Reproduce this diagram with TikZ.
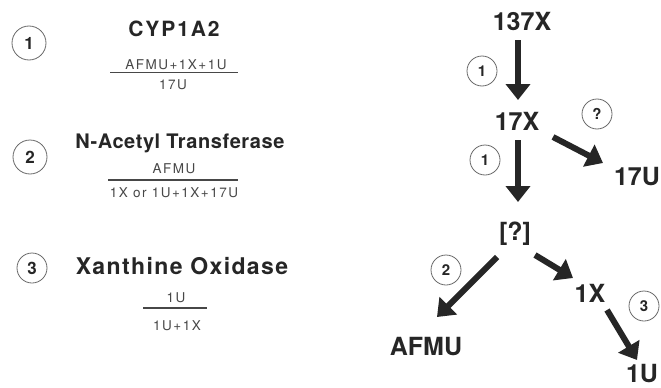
\documentclass[tikz,border=0pt]{standalone}
\usepackage{fontspec}
\setmainfont{TeX Gyre Heros}
\usetikzlibrary{arrows.meta,calc}
\definecolor{ink}{HTML}{262626}
\definecolor{softink}{HTML}{474747}
\definecolor{ringgray}{HTML}{6A6A6A}
\tikzset{
  enzyme/.style={anchor=base, inner sep=0pt, text=ink},
  ratio/.style={anchor=base, inner sep=0pt, text=softink, font=\fontsize{13.5}{13.5}\selectfont\addfontfeature{LetterSpace=11}},
  metab/.style={anchor=base, inner sep=0pt, text=ink, font=\fontsize{25}{25}\selectfont\bfseries},
  ring/.style={circle, draw=ringgray, line width=0.8pt, inner sep=0pt, minimum size=#1, text=ink},
  ringL/.style={ring=34pt, font=\fontsize{17}{17}\selectfont\bfseries},
  ringR/.style={ring=30pt, font=\fontsize{15}{15}\selectfont\bfseries},
  fracrule/.style={softink, line width=1.3pt},
  flow/.style={ink, line width=6pt, -{Triangle[length=16pt,width=24pt]}}
}
\begin{document}
\begin{tikzpicture}[x=1pt,y=-1pt]
  \useasboundingbox (0,0) rectangle (661,388);
  \fill[white] (0,0) rectangle (661,388);

  % ---- enzyme legend ----
  \node[ringL] (c1) at (29,43) {1};
  \node[enzyme, font=\fontsize{21}{21}\selectfont\bfseries\addfontfeature{LetterSpace=9}] (e1) at (174,36) {CYP1A2};
  \node[ratio] (r1n) at (176,69.5) {AFMU+1X+1U};
  \draw[fracrule] (110,72.5) -- (238,72.5);
  \node[ratio] (r1d) at (173,89) {17U};

  \node[ringL] (c2) at (30,157) {2};
  \node[enzyme, font=\fontsize{20}{20}\selectfont\bfseries\addfontfeature{LetterSpace=3}] (e2) at (180,148) {N-Acetyl Transferase};
  \node[ratio] (r2n) at (174,173) {AFMU};
  \draw[fracrule] (108,180) -- (238,180);
  \node[ratio] (r2d) at (174,197) {1X or 1U+1X+17U};

  \node[ringL, minimum size=30pt] (c3) at (32,268) {3};
  \node[enzyme, font=\fontsize{23}{23}\selectfont\bfseries\addfontfeature{LetterSpace=6}] (e3) at (182,274) {Xanthine Oxidase};
  \node[ratio] (r3n) at (176,302) {1U};
  \draw[fracrule] (143,308) -- (207,308);
  \node[ratio] (r3d) at (177,330) {1U+1X};

  % ---- metabolic pathway ----
  \node[metab] (n137) at (522,30) {137X};
  \node[metab] (n17x) at (517,130) {17X};
  \node[metab] (n17u) at (637,185) {17U};
  \node[metab] (nq)   at (515,240) {[?]};
  \node[metab] (afmu) at (426,355) {AFMU};
  \node[metab] (n1x)  at (590,302) {1X};
  \node[metab] (n1u)  at (642,382) {1U};

  \node[ringR] (s1) at (482,71)  {1};
  \node[ringR] (s2) at (597,114) {?};
  \node[ringR] (s3) at (485,160) {1};
  \node[ringR] (s4) at (446,270) {2};
  \node[ringR] (s5) at (644,306) {3};

  \draw[flow] ($(n137.base)+(-4,10)$) -- ($(n17x.base)+(1,-30)$);
  \draw[flow] ($(n17x.base)+(1,10)$)  -- ($(nq.base)+(3,-38)$);
  \draw[flow] ($(n17x.base)+(36,7)$)  -- ($(n17u.base)+(-34,-22)$);
  \draw[flow] ($(nq.base)+(-18,17)$)  -- ($(afmu.base)+(11,-38)$);
  \draw[flow] ($(nq.base)+(20,15)$)   -- ($(n1x.base)+(-17,-24)$);
  \draw[flow] ($(n1x.base)+(17,8)$)   -- ($(n1u.base)+(-5,-22)$);
\end{tikzpicture}
\end{document}
